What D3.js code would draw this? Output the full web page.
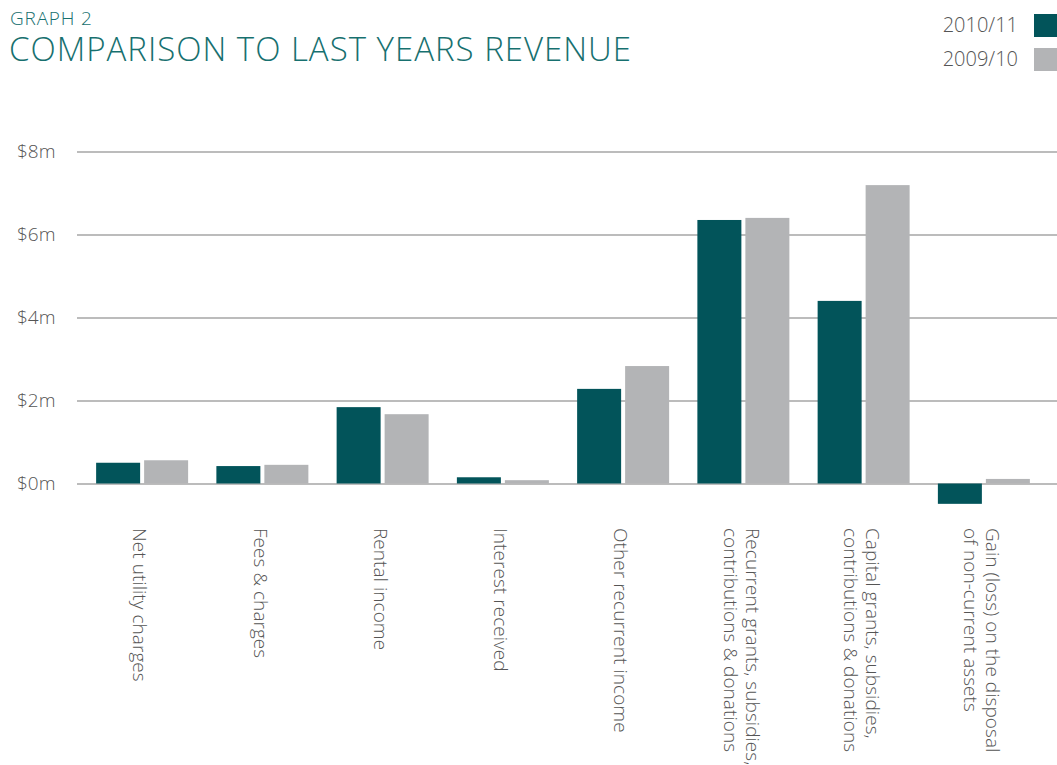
<!DOCTYPE html>
<html>
<head>
<meta charset="utf-8">
<script src="https://cdn.jsdelivr.net/npm/d3@7"></script>
<style>
  body { margin: 0; background: #fff; }
  svg text { font-family: "Open Sans", Lato, sans-serif; font-weight: 300; }
</style>
</head>
<body>
<div id="chart"></div>
<script>
// revenue by category, $m
var categories = [
  ["Net utility charges"],
  ["Fees & charges"],
  ["Rental income"],
  ["Interest received"],
  ["Other recurrent income"],
  ["Recurrent grants, subsidies,", "contributions & donations"],
  ["Capital grants, subsidies,", "contributions & donations"],
  ["Gain (loss) on the disposal", "of non-current assets"]
];
var series = ["2010/11", "2009/10"];
var values2011 = [0.50, 0.42, 1.84, 0.15, 2.28, 6.35, 4.40, -0.49];
var values2010 = [0.56, 0.45, 1.67, 0.08, 2.83, 6.40, 7.19, 0.11];
var yTicks = [0, 2, 4, 6, 8];
var colours = ["#02545a", "#b3b4b6"];

var width = 1057, height = 765;
var teal = "#17706f", grey = "#555";

var svg = d3.select("#chart").append("svg")
  .attr("width", width)
  .attr("height", height);

var names = categories.map(function(c){ return c.join(" "); });

var x0 = d3.scaleBand()
  .domain(names)
  .range([82, 1044])
  .paddingInner(0.235)
  .paddingOuter(0.1175);

var x1 = d3.scaleBand()
  .domain(series)
  .range([0, x0.bandwidth()])
  .paddingInner(0.0833);

var y = d3.scaleLinear()
  .domain([0, 8])
  .range([483.5, 151.5]);

// gridlines + labels
var yAxis = d3.axisLeft(y)
  .tickValues(yTicks)
  .tickSize(-(1057 - 77))
  .tickFormat(function(d){ return "$" + d + "m"; });

var gy = svg.append("g")
  .attr("transform", "translate(77,0)")
  .call(yAxis);
gy.select(".domain").remove();
gy.selectAll(".tick line")
  .attr("stroke", "#bcbcbc")
  .attr("stroke-width", 2);
gy.selectAll(".tick text")
  .attr("x", -60)
  .attr("dy", "0.3em")
  .attr("text-anchor", "start")
  .attr("fill", grey)
  .style("font-size", "19px");

// bars
var rows = names.map(function(n, i){
  return { name: n, vals: [values2011[i], values2010[i]] };
});

var groups = svg.selectAll(".grp")
  .data(rows)
  .enter().append("g")
  .attr("class", "grp")
  .attr("transform", function(d){ return "translate(" + x0(d.name) + ",0)"; });

groups.selectAll("rect")
  .data(function(d){ return d.vals.map(function(v, i){ return { s: series[i], v: v, i: i }; }); })
  .enter().append("rect")
  .attr("x", function(d){ return x1(d.s); })
  .attr("width", x1.bandwidth())
  .attr("y", function(d){ return y(Math.max(0, d.v)); })
  .attr("height", function(d){ return Math.abs(y(d.v) - y(0)); })
  .attr("fill", function(d){ return colours[d.i]; });

// category labels, rotated
var labels = svg.selectAll(".cat")
  .data(categories)
  .enter().append("text")
  .attr("class", "cat")
  .attr("transform", function(d, i){
    var cx = x0(names[i]) + x0.bandwidth() / 2 - 2;
    return "translate(" + cx + ",528) rotate(90)";
  })
  .attr("fill", grey)
  .style("font-size", "19px")
  .style("letter-spacing", "0.05px");

labels.each(function(d){
  var t = d3.select(this);
  var n = d.length;
  d.forEach(function(line, j){
    t.append("tspan")
      .attr("x", 0)
      .attr("y", j * 22 - (n - 1) * 11)
      .attr("dy", "0.35em")
      .text(line);
  });
});

// titles
svg.append("text")
  .attr("x", 10).attr("y", 25)
  .attr("fill", teal)
  .style("font-size", "19px")
  .style("letter-spacing", "0.8px")
  .text("GRAPH 2");

svg.append("text")
  .attr("x", 9).attr("y", 61)
  .attr("fill", teal)
  .style("font-size", "33px")
  .style("letter-spacing", "1px")
  .text("COMPARISON TO LAST YEARS REVENUE");

// legend
var legend = svg.selectAll(".leg")
  .data(series)
  .enter().append("g")
  .attr("class", "leg")
  .attr("transform", function(d, i){ return "translate(1034," + (14 + i * 34) + ")"; });

legend.append("rect")
  .attr("width", 23).attr("height", 23)
  .attr("fill", function(d, i){ return colours[i]; });

legend.append("text")
  .attr("x", -16).attr("y", 18)
  .attr("text-anchor", "end")
  .attr("fill", grey)
  .style("font-size", "20px")
  .text(function(d){ return d; });
</script>
</body>
</html>
